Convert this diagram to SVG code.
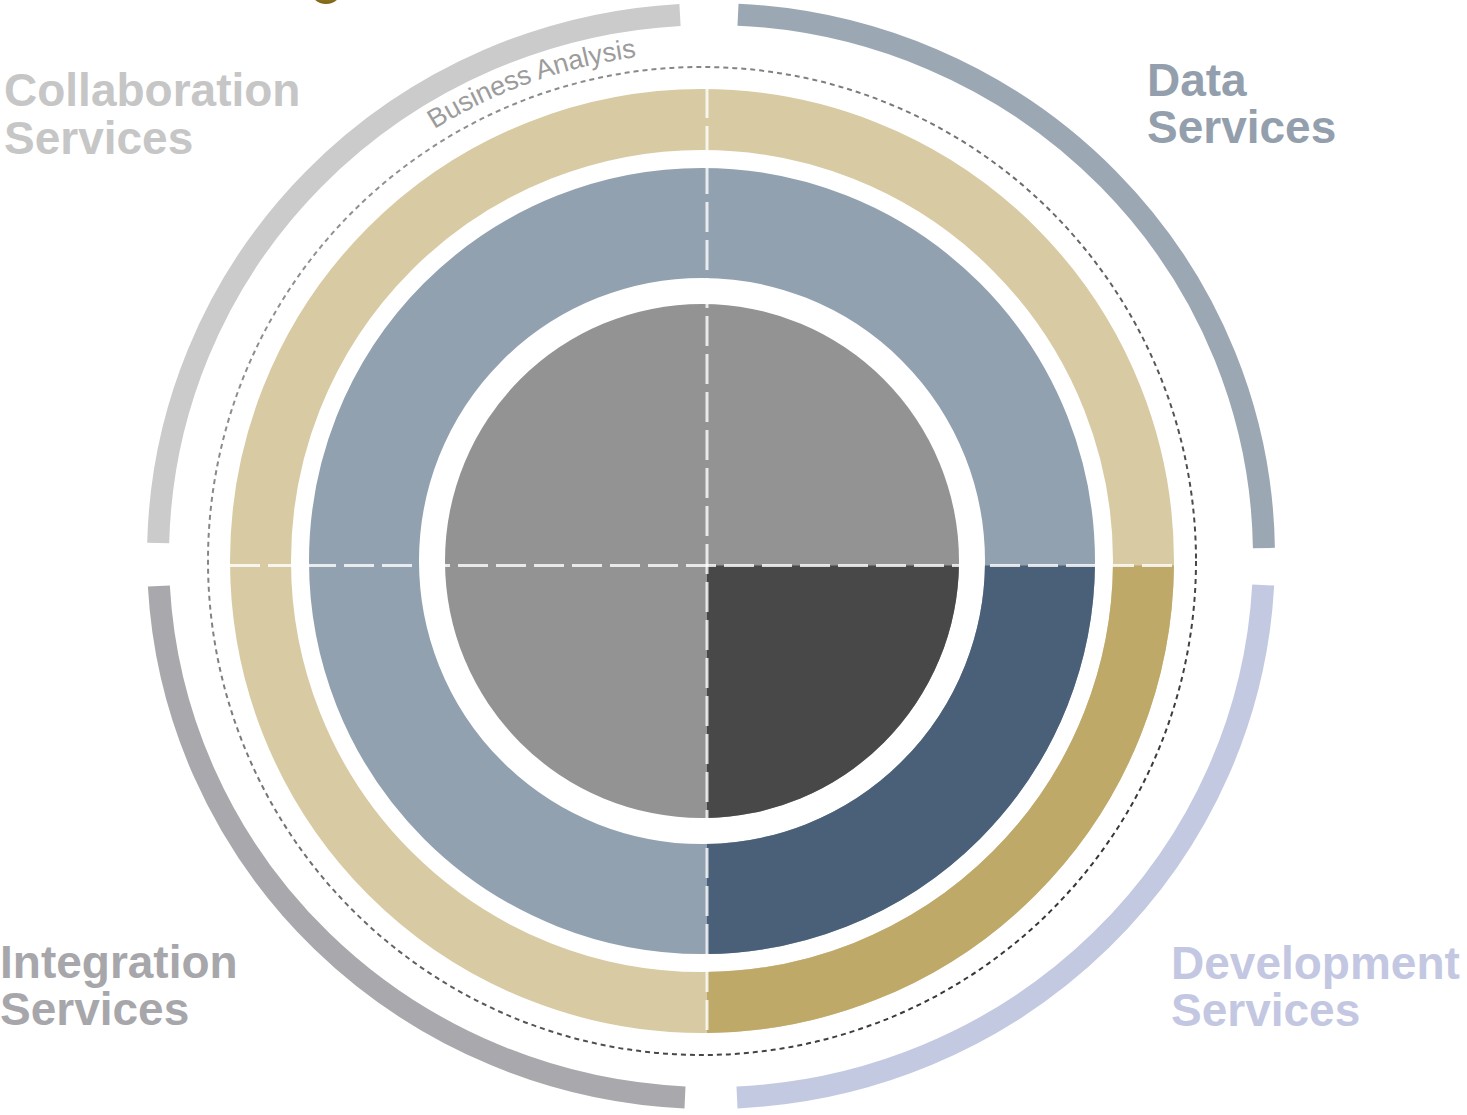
<svg xmlns="http://www.w3.org/2000/svg" width="1467" height="1115" viewBox="0 0 1467 1115">
  <defs>
    <style>
      .lbl { font-family: "Liberation Sans", Arial, sans-serif; font-weight: bold; font-size: 46px; }
      .arc { fill: none; stroke-width: 22; stroke-linecap: butt; }
      .divider { fill: none; stroke: #ffffff; stroke-opacity: 0.8; stroke-width: 3; stroke-dasharray: 30 8; }
    </style>
    <linearGradient id="dotGrad" x1="0" y1="0" x2="1" y2="1">
      <stop offset="0" stop-color="#a0a0a0"/>
      <stop offset="0.5" stop-color="#6a6a6a"/>
      <stop offset="1" stop-color="#222222"/>
    </linearGradient>
    <radialGradient id="logoGrad" cx="0.5" cy="0.3" r="0.7">
      <stop offset="0" stop-color="#c9a93a"/>
      <stop offset="1" stop-color="#7d6418"/>
    </radialGradient>
    <clipPath id="brQuad">
      <rect x="707" y="565.5" width="800" height="600"/>
    </clipPath>
    <path id="baPath" d="M194,561 A508,508 0 0 1 1210,561"/>
  </defs>

  <rect width="1467" height="1115" fill="#ffffff"/>

  <!-- logo fragment -->
  <ellipse cx="326" cy="-11" rx="16" ry="15" fill="url(#logoGrad)"/>

  <!-- outer service arcs and labels -->
  <g id="collaboration">
    <path class="arc" stroke="#cbcbcb" d="M158.2,543 A553,542 0 0 1 680,14.9"/>
    <text class="lbl" fill="#c6c6c6" x="4" y="106">Collaboration</text>
    <text class="lbl" fill="#c6c6c6" x="4" y="154">Services</text>
  </g>
  <g id="data">
    <path class="arc" stroke="#9ba8b4" d="M738,14.65 A553,542 0 0 1 1263.9,548"/>
    <text class="lbl" fill="#939fac" x="1147" y="96">Data</text>
    <text class="lbl" fill="#939fac" x="1147" y="143">Services</text>
  </g>
  <g id="development">
    <path class="arc" stroke="#c4c9e2" d="M1263.2,585 A553,542 0 0 1 737,1097.4"/>
    <text class="lbl" fill="#c3c7e1" x="1171" y="979">Development</text>
    <text class="lbl" fill="#c3c7e1" x="1171" y="1026">Services</text>
  </g>
  <g id="integration">
    <path class="arc" stroke="#a9a9ad" d="M685,1097.4 A553,542 0 0 1 158.85,586"/>
    <text class="lbl" fill="#a7a7ab" x="0" y="978">Integration</text>
    <text class="lbl" fill="#a7a7ab" x="0" y="1025">Services</text>
  </g>

  <!-- business analysis dotted ring -->
  <g id="business-analysis">
    <circle cx="702" cy="561" r="494" fill="none" stroke="url(#dotGrad)" stroke-width="2" stroke-dasharray="5 4"/>
    <text font-family="'Liberation Sans', Arial, sans-serif" font-size="27" fill="#9c9c9c">
      <textPath href="#baPath" startOffset="516">Business Analysis</textPath>
    </text>
  </g>

  <!-- gold ring -->
  <g id="gold-ring">
    <circle cx="702" cy="561" r="441.5" fill="none" stroke="#d8cba3" stroke-width="61"/>
    <circle cx="702" cy="561" r="441.5" fill="none" stroke="#bea969" stroke-width="61" clip-path="url(#brQuad)"/>
  </g>

  <!-- blue ring -->
  <g id="blue-ring">
    <circle cx="702" cy="561" r="338" fill="none" stroke="#92a1b0" stroke-width="110"/>
    <circle cx="702" cy="561" r="338" fill="none" stroke="#4a6079" stroke-width="110" clip-path="url(#brQuad)"/>
  </g>

  <!-- core circle -->
  <g id="core">
    <circle cx="702" cy="561" r="257" fill="#939393"/>
    <circle cx="702" cy="561" r="257" fill="#484848" clip-path="url(#brQuad)"/>
  </g>

  <!-- quadrant dividers -->
  <g id="connectors">
    <line class="divider" x1="230" y1="565.5" x2="1174" y2="565.5"/>
    <line class="divider" x1="707" y1="88" x2="707" y2="1033"/>
  </g>
</svg>
